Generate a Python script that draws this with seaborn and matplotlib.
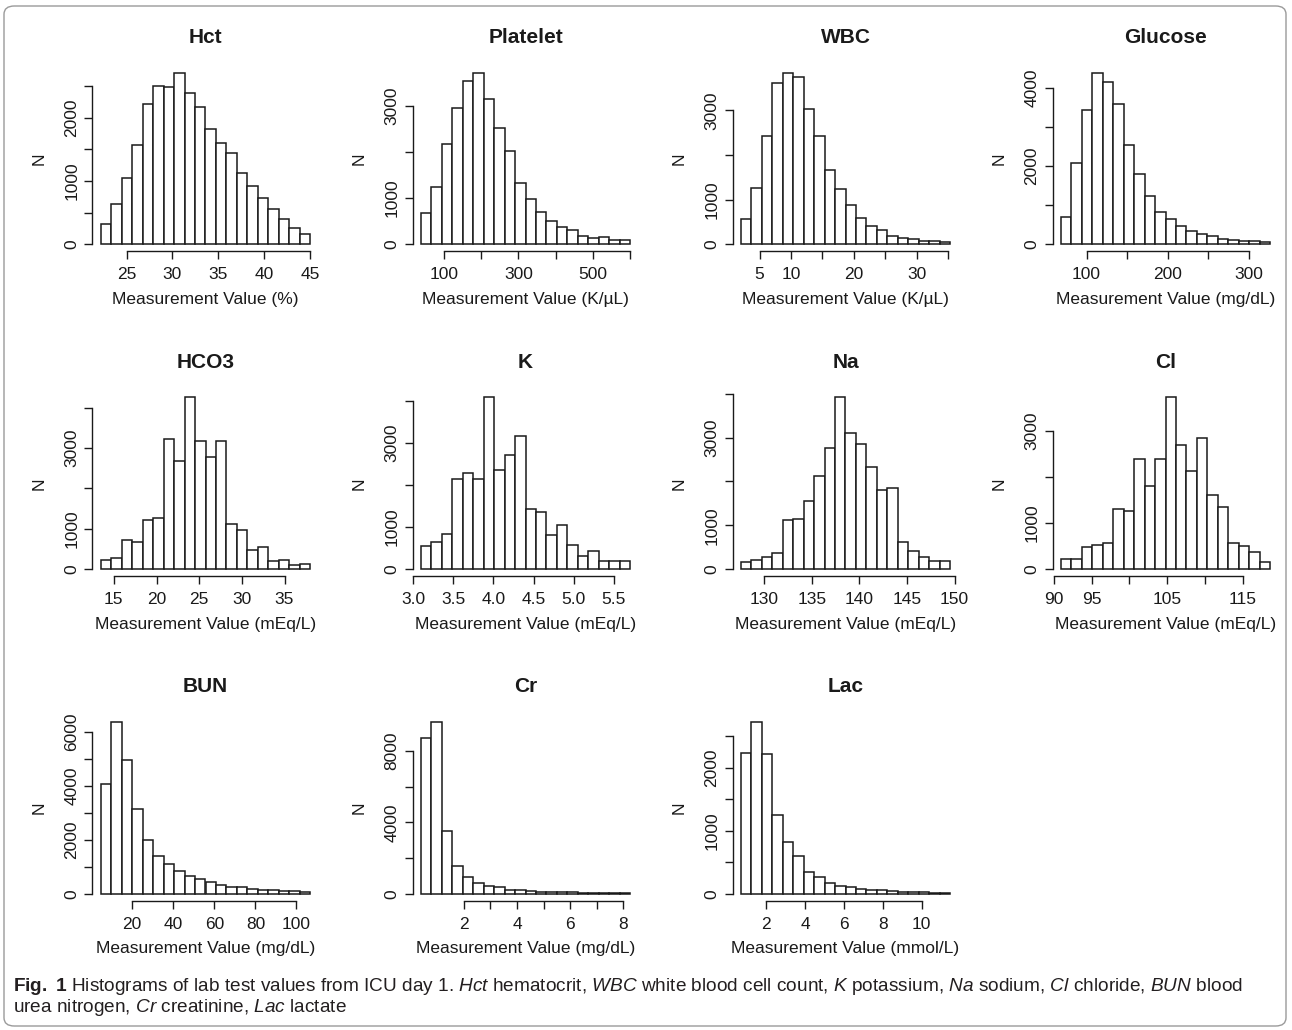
"""
Histograms of ICU day-1 lab values, redrawn in the R base-graphics look
(white bars, detached axis lines, rotated y labels).
"""

import numpy as np
import pandas as pd
import matplotlib
matplotlib.use('Agg')
import matplotlib.pyplot as plt
import seaborn as sns
from matplotlib import font_manager
from matplotlib.patches import FancyBboxPatch

# --- bin counts (20 equal-width bins per test) ---
hct_counts = [321, 632, 1042, 1563, 2210, 2495, 2484, 2710, 2384, 2168,
              1821, 1605, 1442, 1121, 926, 726, 553, 395, 253, 163]
platelet_counts = [671, 1249, 2166, 2946, 3531, 3718, 3141, 2513, 2022, 1321,
                   982, 700, 498, 383, 303, 181, 137, 152, 101, 87]
wbc_counts = [560, 1269, 2433, 3619, 3843, 3754, 3022, 2425, 1664, 1239,
              873, 582, 403, 313, 179, 149, 112, 82, 67, 52]
glucose_counts = [689, 2085, 3430, 4383, 4136, 3574, 2545, 1804, 1234, 826,
                  638, 460, 332, 264, 213, 145, 119, 94, 77, 60]
hco3_counts = [223, 273, 711, 678, 1215, 1256, 3215, 2678, 4256, 3165,
               2777, 3174, 1107, 959, 479, 545, 190, 215, 99, 132]
k_counts = [556, 635, 841, 2143, 2294, 2143, 4087, 2357, 2722, 3167,
            1437, 1349, 802, 1040, 571, 317, 437, 183, 183, 183]
na_counts = [152, 198, 274, 357, 1110, 1133, 1559, 2114, 2753, 3916,
             3095, 2844, 2327, 1810, 1856, 616, 403, 266, 175, 175]
cl_counts = [209, 217, 477, 513, 556, 1300, 1256, 2383, 1791, 2390,
             3718, 2693, 2116, 2838, 1596, 1343, 556, 491, 361, 152]
bun_counts = [4059, 6349, 4963, 3131, 2005, 1411, 1089, 829, 644, 545,
              446, 322, 260, 248, 186, 149, 124, 111, 87, 62]
cr_counts = [8692, 9610, 3503, 1536, 918, 581, 412, 356, 225, 187,
             131, 112, 94, 75, 70, 56, 50, 37, 30, 25]
lac_counts = [2228, 2721, 2212, 1247, 817, 600, 340, 265, 175, 127,
              106, 74, 53, 53, 37, 27, 21, 21, 16, 16]

# value range covered by the bins
hct_range = (22.2, 45.0)
platelet_range = (38.1, 600.0)
wbc_range = (2.03, 35.3)
glucose_range = (68.3, 326.7)
hco3_range = (13.48, 38.0)
k_range = (3.096, 5.704)
na_range = (127.54, 149.54)
cl_range = (90.93, 118.59)
bun_range = (4.72, 106.67)
cr_range = (0.382, 8.25)
lac_range = (0.695, 11.46)

titles = ['Hct', 'Platelet', 'WBC', 'Glucose', 'HCO3', 'K', 'Na', 'Cl',
          'BUN', 'Cr', 'Lac']
units = ['%', 'K/\u00b5L', 'K/\u00b5L', 'mg/dL', 'mEq/L', 'mEq/L', 'mEq/L',
         'mEq/L', 'mg/dL', 'mg/dL', 'mmol/L']

# x ticks, and the labels R actually printed ('' = skipped for overlap)
x_ticks = [[25, 30, 35, 40, 45],
           [100, 200, 300, 400, 500, 600],
           [5, 10, 15, 20, 25, 30, 35],
           [100, 150, 200, 250, 300],
           [15, 20, 25, 30, 35],
           [3.0, 3.5, 4.0, 4.5, 5.0, 5.5],
           [130, 135, 140, 145, 150],
           [90, 95, 100, 105, 110, 115],
           [20, 40, 60, 80, 100],
           [2, 3, 4, 5, 6, 7, 8],
           [2, 4, 6, 8, 10]]
x_labels = [['25', '30', '35', '40', '45'],
            ['100', '', '300', '', '500', ''],
            ['5', '10', '', '20', '', '30', ''],
            ['100', '', '200', '', '300'],
            ['15', '20', '25', '30', '35'],
            ['3.0', '3.5', '4.0', '4.5', '5.0', '5.5'],
            ['130', '135', '140', '145', '150'],
            ['90', '95', '', '105', '', '115'],
            ['20', '40', '60', '80', '100'],
            ['2', '', '4', '', '6', '', '8'],
            ['2', '4', '6', '8', '10']]
y_ticks = [[0, 500, 1000, 1500, 2000, 2500],
           [0, 1000, 2000, 3000],
           [0, 1000, 2000, 3000],
           [0, 1000, 2000, 3000, 4000],
           [0, 1000, 2000, 3000, 4000],
           [0, 1000, 2000, 3000, 4000],
           [0, 1000, 2000, 3000, 4000],
           [0, 1000, 2000, 3000],
           [0, 1000, 2000, 3000, 4000, 5000, 6000],
           [0, 2000, 4000, 6000, 8000],
           [0, 500, 1000, 1500, 2000, 2500]]
y_labels = [['0', '', '1000', '', '2000', ''],
            ['0', '1000', '', '3000'],
            ['0', '1000', '', '3000'],
            ['0', '', '2000', '', '4000'],
            ['0', '1000', '', '3000', ''],
            ['0', '1000', '', '3000', ''],
            ['0', '1000', '', '3000', ''],
            ['0', '1000', '', '3000'],
            ['0', '', '2000', '', '4000', '', '6000'],
            ['0', '', '4000', '', '8000'],
            ['0', '', '1000', '', '2000', '']]

all_counts = [hct_counts, platelet_counts, wbc_counts, glucose_counts,
              hco3_counts, k_counts, na_counts, cl_counts, bun_counts,
              cr_counts, lac_counts]
all_ranges = [hct_range, platelet_range, wbc_range, glucose_range,
              hco3_range, k_range, na_range, cl_range, bun_range,
              cr_range, lac_range]

sns.set_style('ticks')
plt.rcParams['font.family'] = ['Liberation Sans', 'DejaVu Sans']

installed = {f.name for f in font_manager.fontManager.ttflist}
narrow = 'Liberation Sans Narrow' in installed
cap_font = 'Liberation Sans Narrow' if narrow else 'Liberation Sans'
cap_size = 15.5 if narrow else 13.7
plt.rcParams['mathtext.fontset'] = 'custom'
plt.rcParams['mathtext.rm'] = cap_font
plt.rcParams['mathtext.it'] = cap_font + ':italic'
plt.rcParams['mathtext.bf'] = cap_font + ':bold'

INK = '#1a1a1a'
W, H = 1292, 1030
fig = plt.figure(figsize=(W / 100, H / 100), dpi=100)

# outer rounded frame of the journal figure box
frame = FancyBboxPatch((4 / W, 4 / H), 1282 / W, 1020 / H,
                       boxstyle='round,pad=0,rounding_size=0.008',
                       transform=fig.transFigure, facecolor='none',
                       edgecolor='#9a9a9a', linewidth=1.0)
fig.patches.append(frame)

ax_w, ax_h = 226, 185.4
row_tops = [65.8, 390.6, 715.2]

for i in range(len(titles)):
    r, c = divmod(i, 4)
    x0 = 92.5 + 320 * c
    y0 = row_tops[r]
    ax = fig.add_axes([x0 / W, 1 - (y0 + ax_h) / H, ax_w / W, ax_h / H])

    counts = all_counts[i]
    lo, hi = all_ranges[i]
    edges = np.linspace(lo, hi, len(counts) + 1)
    df = pd.DataFrame({'value': (edges[:-1] + edges[1:]) / 2, 'n': counts})
    sns.histplot(data=df, x='value', weights='n', bins=list(edges), ax=ax,
                 color='white', edgecolor=INK, linewidth=1.1, alpha=1)

    span = hi - lo
    ymax = max(counts)
    ax.set_xlim(lo - 0.04 * span, hi + 0.04 * span)
    ax.set_ylim(-0.04 * ymax, 1.04 * ymax)

    ax.set_xticks(x_ticks[i])
    ax.set_xticklabels(x_labels[i])
    ax.set_yticks(y_ticks[i])
    ax.set_yticklabels(y_labels[i], rotation=90, va='center')

    sns.despine(ax=ax)
    ax.spines['left'].set_bounds(y_ticks[i][0], y_ticks[i][-1])
    ax.spines['bottom'].set_bounds(x_ticks[i][0], x_ticks[i][-1])
    for s in ['left', 'bottom']:
        ax.spines[s].set_color(INK)
        ax.spines[s].set_linewidth(1.0)
    ax.tick_params(length=5.5, width=1.0, color=INK, labelsize=12.5,
                   labelcolor=INK, pad=6)
    ax.tick_params(axis='y', pad=4)

    ax.set_title(titles[i], fontsize=15, fontweight='bold', color=INK,
                 pad=16.5)
    ax.set_xlabel(f'Measurement Value ({units[i]})', fontsize=12.5,
                  color=INK, labelpad=7)
    ax.set_ylabel('N', fontsize=12.5, color=INK, labelpad=13)
    ax.grid(False)

caption_1 = (r'$\bf{Fig.}$ $\bf{1}$ Histograms of lab test values from ICU day 1. '
             r'$\it{Hct}$ hematocrit, $\it{WBC}$ white blood cell count, '
             r'$\it{K}$ potassium, $\it{Na}$ sodium, $\it{Cl}$ chloride, '
             r'$\it{BUN}$ blood')
caption_2 = r'urea nitrogen, $\it{Cr}$ creatinine, $\it{Lac}$ lactate'
fig.text(13 / W, 1 - 991 / H, caption_1, fontsize=cap_size, family=cap_font,
         color='#231f20', va='baseline')
fig.text(13 / W, 1 - 1012 / H, caption_2, fontsize=cap_size, family=cap_font,
         color='#231f20', va='baseline')

fig.savefig('out.png', dpi=100, facecolor='white')
